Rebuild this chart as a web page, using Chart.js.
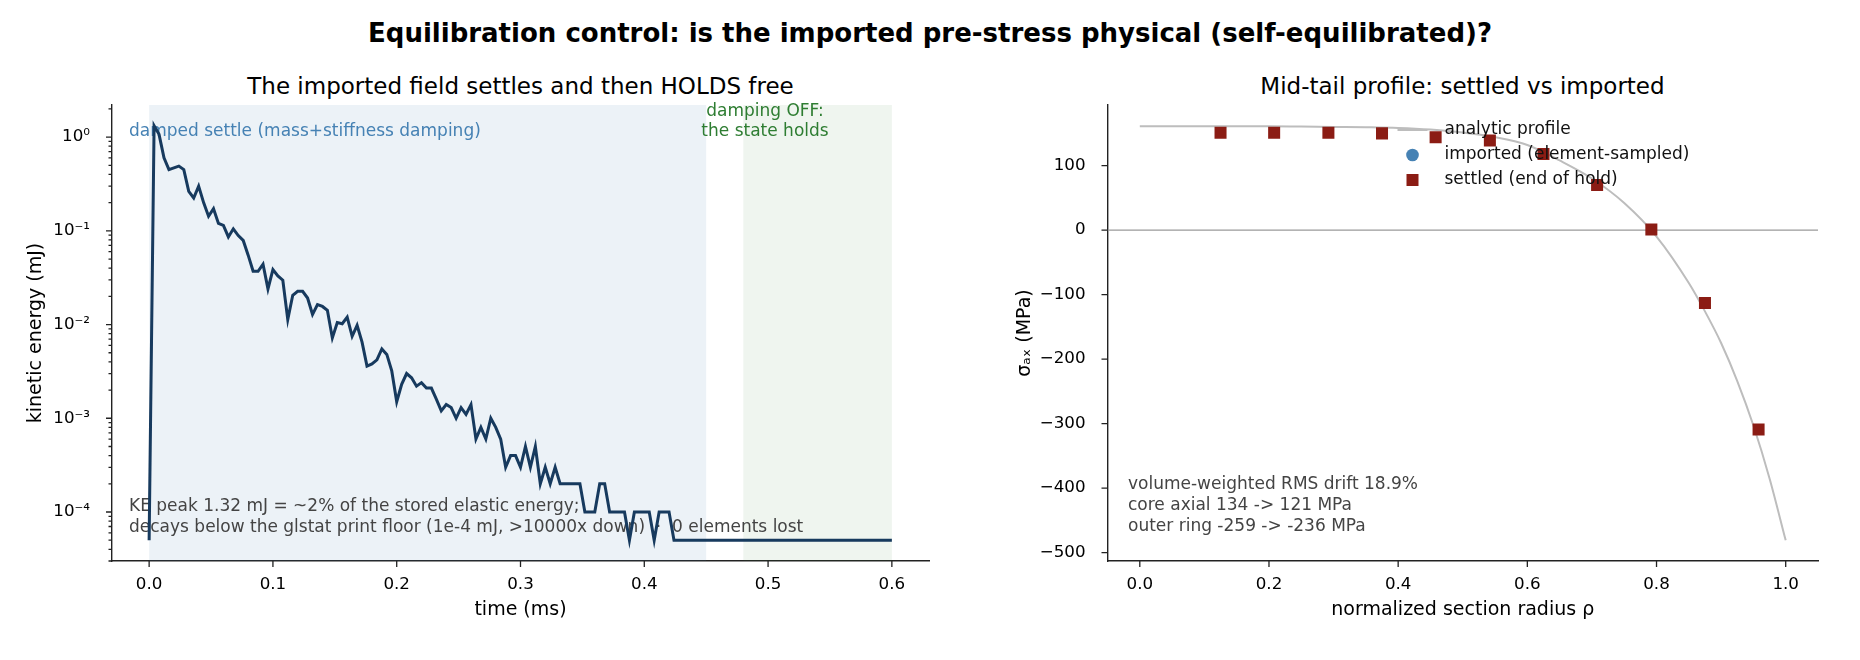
<!DOCTYPE html>
<html>
<head>
<meta charset="utf-8">
<script src="https://cdn.jsdelivr.net/npm/chart.js@4.4.1/dist/chart.umd.min.js"></script>
<style>
  body { margin: 0; background: #fff; width: 1860px; height: 660px; position: relative; overflow: hidden; font-family: "DejaVu Sans", sans-serif; }
  canvas { position: absolute; top: 0; }
  .ttl { position: absolute; text-align: center; white-space: nowrap; color: #000; }
</style>
</head>
<body>
<div class="ttl" style="left:0;width:1860px;top:17px;font-size:26px;font-weight:bold;line-height:32px">Equilibration control: is the imported pre-stress physical (self-equilibrated)?</div>
<div class="ttl" style="left:112px;width:817px;top:72px;font-size:23px;line-height:28px">The imported field settles and then HOLDS free</div>
<div class="ttl" style="left:1107px;width:711px;top:72px;font-size:23px;line-height:28px">Mid-tail profile: settled vs imported</div>
<canvas id="cKE" width="940" height="660" style="left:0"></canvas>
<canvas id="cProf" width="920" height="660" style="left:940px"></canvas>
<script>
// ---- left panel: kinetic energy history ----
const timeMs = [0, 0.004, 0.008, 0.012, 0.016, 0.020, 0.024, 0.028, 0.032, 0.036,
  0.040, 0.044, 0.048, 0.052, 0.056, 0.060, 0.064, 0.068, 0.072, 0.076,
  0.080, 0.084, 0.088, 0.092, 0.096, 0.100, 0.104, 0.108, 0.112, 0.116,
  0.120, 0.124, 0.128, 0.132, 0.136, 0.140, 0.144, 0.148, 0.152, 0.156,
  0.160, 0.164, 0.168, 0.172, 0.176, 0.180, 0.184, 0.188, 0.192, 0.196,
  0.200, 0.204, 0.208, 0.212, 0.216, 0.220, 0.224, 0.228, 0.232, 0.236,
  0.240, 0.244, 0.248, 0.252, 0.256, 0.260, 0.264, 0.268, 0.272, 0.276,
  0.280, 0.284, 0.288, 0.292, 0.296, 0.300, 0.304, 0.308, 0.312, 0.316,
  0.320, 0.324, 0.328, 0.332, 0.348, 0.352, 0.360, 0.364, 0.368, 0.372,
  0.384, 0.388, 0.392, 0.404, 0.408, 0.412, 0.420, 0.424, 0.600];
const keMj = [5e-5, 1.32, 1.07, 0.60, 0.45, 0.47, 0.49, 0.45, 0.264, 0.224,
  0.30, 0.20, 0.143, 0.172, 0.120, 0.114, 0.086, 0.105, 0.089, 0.079,
  0.055, 0.037, 0.037, 0.044, 0.024, 0.0386, 0.033, 0.0297, 0.0113, 0.0205,
  0.0226, 0.0226, 0.0192, 0.0128, 0.0163, 0.0156, 0.0142, 0.0072, 0.0105, 0.0102,
  0.012, 0.0075, 0.0098, 0.0065, 0.0036, 0.0038, 0.0042, 0.0055, 0.0048, 0.0032,
  0.0015, 0.0023, 0.0030, 0.0027, 0.0022, 0.0024, 0.0021, 0.0021, 0.0016, 0.0012,
  0.0014, 0.0013, 0.0010, 0.0013, 0.0011, 0.0014, 0.0006, 0.0008, 0.0006, 0.0010,
  0.0008, 0.0006, 0.0003, 0.0004, 0.0004, 0.0003, 0.0005, 0.0003, 0.0005, 0.0002,
  0.0003, 0.0002, 0.0003, 0.0002, 0.0002, 0.0001, 0.0001, 0.0002, 0.0002, 0.0001,
  0.0001, 5e-5, 0.0001, 0.0001, 5e-5, 0.0001, 0.0001, 5e-5, 5e-5];
const phaseSettle = [0, 0.45];
const phaseHold = [0.48, 0.6];
const xTicksKE = [0, 0.1, 0.2, 0.3, 0.4, 0.5, 0.6];
const xLabelsKE = ['0.0', '0.1', '0.2', '0.3', '0.4', '0.5', '0.6'];
const yMajorKE = [1e-4, 1e-3, 1e-2, 1e-1, 1];
const yLabelsKE = ['10\u207B\u2074', '10\u207B\u00B3', '10\u207B\u00B2', '10\u207B\u00B9', '10\u2070'];

// ---- right panel: axial stress profile ----
const rhoAnalytic = [0, 0.05, 0.1, 0.15, 0.2, 0.25, 0.3, 0.35, 0.4, 0.45, 0.5, 0.55,
  0.6, 0.65, 0.7, 0.75, 0.8, 0.85, 0.875, 0.9, 0.925, 0.95, 0.975, 1.0];
const sigmaAnalytic = [161, 161, 161, 161, 161, 160.5, 160, 159.5, 158.5, 156, 151.5, 144,
  132, 108, 80, 42, -10, -82, -126, -175, -234, -303, -385, -481];
const rhoElem = [0.125, 0.208, 0.292, 0.375, 0.458, 0.542, 0.625, 0.708, 0.792, 0.875, 0.958];
const sigmaSettled = [151, 151, 151, 150, 144, 139, 118, 70, 1, -113, -309];
const sigmaImported = []; // no imported markers are visible in the figure
const xTicksProf = [0, 0.2, 0.4, 0.6, 0.8, 1.0];
const xLabelsProf = ['0.0', '0.2', '0.4', '0.6', '0.8', '1.0'];
const yTicksProf = [-500, -400, -300, -200, -100, 0, 100];
const yLabelsProf = ['\u2212500', '\u2212400', '\u2212300', '\u2212200', '\u2212100', '0', '100'];

const FONT = '"DejaVu Sans"';
Chart.defaults.font.family = FONT;
Chart.defaults.color = '#000';

const tickFont = { family: FONT, size: 16.7 };
const labelFont = { family: FONT, size: 19 };
const noteFont = '17px ' + FONT;
const axisInk = '#222';

// outward tick marks, long for labelled ticks, short for minor ones
const tickMarks = {
  id: 'tickMarks',
  afterDraw(chart) {
    const { ctx, scales: { x, y } } = chart;
    ctx.save();
    ctx.strokeStyle = axisInk; ctx.lineWidth = 1.3;
    ctx.beginPath();
    x.ticks.forEach(t => {
      const px = x.getPixelForValue(t.value), len = t.label ? 6 : 3.5;
      ctx.moveTo(px, x.top); ctx.lineTo(px, x.top + len);
    });
    y.ticks.forEach(t => {
      const py = y.getPixelForValue(t.value), len = t.label ? 6 : 3.5;
      ctx.moveTo(y.right - len, py); ctx.lineTo(y.right, py);
    });
    ctx.stroke();
    ctx.restore();
  }
};

const phaseShading = {
  id: 'phaseShading',
  beforeDatasetsDraw(chart) {
    const { ctx, chartArea: a, scales: { x } } = chart;
    ctx.save();
    ctx.fillStyle = 'rgba(70,130,180,0.10)';
    ctx.fillRect(x.getPixelForValue(phaseSettle[0]), a.top, x.getPixelForValue(phaseSettle[1]) - x.getPixelForValue(phaseSettle[0]), a.bottom - a.top);
    ctx.fillStyle = 'rgba(46,125,50,0.08)';
    ctx.fillRect(x.getPixelForValue(phaseHold[0]), a.top, x.getPixelForValue(phaseHold[1]) - x.getPixelForValue(phaseHold[0]), a.bottom - a.top);

    ctx.font = noteFont;
    ctx.textBaseline = 'middle';
    ctx.textAlign = 'left';
    ctx.fillStyle = '#4682b4';
    ctx.fillText('damped settle (mass+stiffness damping)', a.left + 17, a.top + 27);
    ctx.textAlign = 'center';
    ctx.fillStyle = '#2e7d32';
    ctx.fillText('damping OFF:', a.left + 653, a.top + 7);
    ctx.fillText('the state holds', a.left + 653, a.top + 27);
    ctx.textAlign = 'left';
    ctx.fillStyle = '#444';
    ctx.fillText('KE peak 1.32 mJ = ~2% of the stored elastic energy;', a.left + 17, a.top + 402);
    ctx.fillText('decays below the glstat print floor (1e-4 mJ, >10000x down)  \u00B7  0 elements lost', a.left + 17, a.top + 423);
    ctx.restore();
  }
};

new Chart(document.getElementById('cKE'), {
  type: 'line',
  data: {
    datasets: [{
      label: 'kinetic energy',
      data: timeMs.map((t, i) => ({ x: t, y: keMj[i] })),
      borderColor: '#173a5e', borderWidth: 3, pointRadius: 0, tension: 0, fill: false
    }]
  },
  options: {
    responsive: false, animation: false, devicePixelRatio: 1,
    layout: { padding: { left: 0, top: 105, right: 11, bottom: 39 } },
    plugins: { legend: { display: false }, tooltip: { enabled: false } },
    scales: {
      x: {
        type: 'linear', min: -0.03, max: 0.63,
        afterBuildTicks: s => { s.ticks = xTicksKE.map(v => ({ value: v })); },
        afterFit: s => { s.height = 60; },
        grid: { display: false },
        border: { display: true, color: axisInk, width: 1.4 },
        ticks: { font: tickFont, color: '#000', padding: 6, autoSkip: false, maxRotation: 0,
          callback: (v, i) => xLabelsKE[i] },
        title: { display: true, text: 'time (ms)', font: labelFont, color: '#000', padding: { top: 0, bottom: 0 } }
      },
      y: {
        type: 'logarithmic', min: 3.0e-5, max: 2.2,
        afterBuildTicks: s => {
          const t = [];
          for (let e = -5; e <= 0; e++) for (let m = 1; m <= 9; m++) {
            const v = m * Math.pow(10, e);
            if (v >= 3.0e-5 && v <= 2.2) t.push({ value: m === 1 ? yMajorKE[e + 4] : v });
          }
          s.ticks = t;
        },
        afterFit: s => { s.width = 112; },
        grid: { display: false },
        border: { display: true, color: axisInk, width: 1.4 },
        ticks: { font: tickFont, color: '#000', padding: 14, autoSkip: false,
          callback: v => { const k = yMajorKE.indexOf(v); return k < 0 ? '' : yLabelsKE[k]; } },
        title: { display: true, text: 'kinetic energy (mJ)', font: labelFont, color: '#000', padding: { top: 24.5, bottom: 0 } }
      }
    }
  },
  plugins: [phaseShading, tickMarks]
});

const profileNotes = {
  id: 'profileNotes',
  afterDatasetsDraw(chart) {
    const { ctx, chartArea: a } = chart;
    ctx.save();
    ctx.font = noteFont;
    ctx.textBaseline = 'middle';
    ctx.fillStyle = '#444';
    ctx.fillText('volume-weighted RMS drift 18.9%', a.left + 20.5, a.top + 380);
    ctx.fillText('core axial 134 -> 121 MPa', a.left + 20.5, a.top + 400.7);
    ctx.fillText('outer ring -259 -> -236 MPa', a.left + 20.5, a.top + 421.7);

    // legend, styled from the datasets
    const ds = chart.data.datasets;
    const hx = a.left + 290, tx = a.left + 337;
    const rows = [a.top + 25, a.top + 50, a.top + 75];
    ctx.strokeStyle = ds[0].borderColor; ctx.lineWidth = ds[0].borderWidth;
    ctx.beginPath(); ctx.moveTo(hx, rows[0]); ctx.lineTo(hx + 30, rows[0]); ctx.stroke();
    ctx.fillStyle = ds[2].backgroundColor;
    ctx.beginPath(); ctx.arc(hx + 15, rows[1], 6.3, 0, Math.PI * 2); ctx.fill();
    ctx.fillStyle = ds[3].backgroundColor;
    ctx.fillRect(hx + 9, rows[2] - 6, 12, 12);
    ctx.fillStyle = '#111';
    [ds[0], ds[2], ds[3]].forEach((d, i) => ctx.fillText(d.label, tx, rows[i]));
    ctx.restore();
  }
};

new Chart(document.getElementById('cProf'), {
  type: 'scatter',
  data: {
    datasets: [
      { type: 'line', label: 'analytic profile', order: 3,
        data: rhoAnalytic.map((r, i) => ({ x: r, y: sigmaAnalytic[i] })),
        borderColor: '#bdbdbd', backgroundColor: '#bdbdbd', borderWidth: 2, pointRadius: 0, cubicInterpolationMode: 'monotone', fill: false },
      { type: 'line', label: '', order: 4,
        data: [{ x: -0.05, y: 0 }, { x: 1.05, y: 0 }],
        borderColor: '#9a9a9a', borderWidth: 1.2, pointRadius: 0, fill: false },
      { label: 'imported (element-sampled)', order: 1,
        data: sigmaImported.map((s, i) => ({ x: rhoElem[i], y: s })),
        backgroundColor: '#4682b4', pointStyle: 'circle', pointRadius: 6.3, borderWidth: 0 },
      { label: 'settled (end of hold)', order: 0,
        data: rhoElem.map((r, i) => ({ x: r, y: sigmaSettled[i] })),
        backgroundColor: '#8b1c14', borderColor: '#8b1c14', pointStyle: 'rect', pointRadius: 8.5, borderWidth: 0 }
    ]
  },
  options: {
    responsive: false, animation: false, devicePixelRatio: 1,
    layout: { padding: { left: 0, top: 105, right: 42, bottom: 39 } },
    plugins: { legend: { display: false }, tooltip: { enabled: false } },
    scales: {
      x: {
        type: 'linear', min: -0.05, max: 1.05,
        afterBuildTicks: s => { s.ticks = xTicksProf.map(v => ({ value: v })); },
        afterFit: s => { s.height = 60; },
        grid: { display: false },
        border: { display: true, color: axisInk, width: 1.4 },
        ticks: { font: tickFont, color: '#000', padding: 6, autoSkip: false, maxRotation: 0,
          callback: (v, i) => xLabelsProf[i] },
        title: { display: true, text: 'normalized section radius \u03C1', font: labelFont, color: '#000', padding: { top: 0, bottom: 0 } }
      },
      y: {
        type: 'linear', min: -513, max: 194,
        afterBuildTicks: s => { s.ticks = yTicksProf.map(v => ({ value: v })); },
        afterFit: s => { s.width = 167.5; },
        grid: { display: false },
        border: { display: true, color: axisInk, width: 1.4 },
        ticks: { font: tickFont, color: '#000', padding: 14, autoSkip: false,
          callback: (v, i) => yLabelsProf[i] },
        title: { display: true, text: '\u03C3\u2090\u2093 (MPa)', font: labelFont, color: '#000', padding: { top: 73.5, bottom: 0 } }
      }
    }
  },
  plugins: [profileNotes, tickMarks]
});
</script>
</body>
</html>
